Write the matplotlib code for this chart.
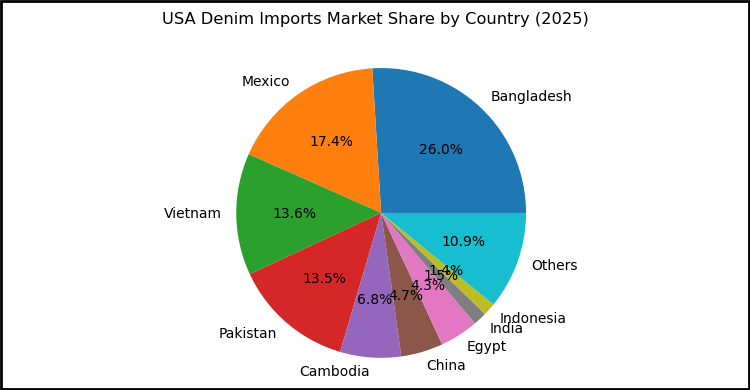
import matplotlib.pyplot as plt
from matplotlib.patches import Rectangle

countries = ["Bangladesh", "Mexico", "Vietnam", "Pakistan", "Cambodia",
             "China", "Egypt", "India", "Indonesia", "Others"]
shares = [26.0, 17.4, 13.6, 13.5, 6.8, 4.7, 4.3, 1.5, 1.4, 10.9]

fig = plt.figure(figsize=(7.5, 3.9), dpi=100)
ax = fig.add_axes([0.2667, -0.011, 0.483, 0.93])

ax.pie(shares, labels=countries, autopct='%1.1f%%',
       textprops={'fontsize': 10})
ax.set_aspect('equal')

fig.text(0.5, 0.951, 'USA Denim Imports Market Share by Country (2025)',
         fontsize=11.7, ha='center', va='center')

# frame around the picture
fig.patches.append(Rectangle((0.0015, 0.003), 0.997, 0.994, transform=fig.transFigure,
                             fill=False, edgecolor='black', linewidth=2))

plt.savefig('out.png', dpi=100)
